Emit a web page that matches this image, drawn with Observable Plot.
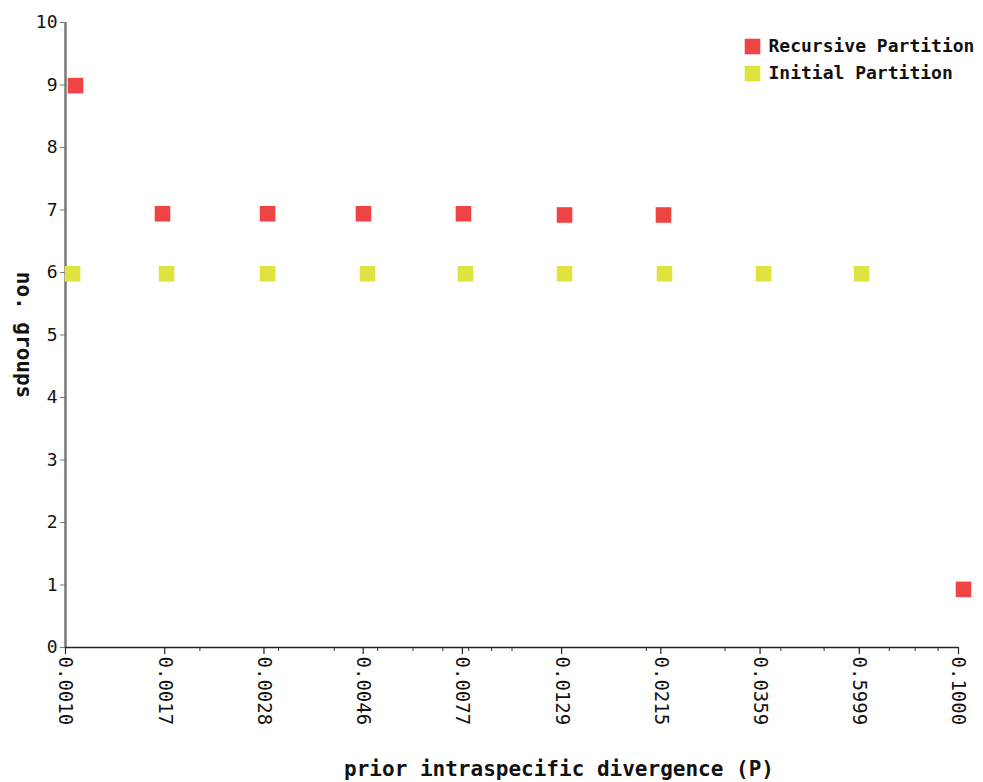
<!DOCTYPE html>
<html>
<head>
<meta charset="utf-8">
<script src="https://cdn.jsdelivr.net/npm/d3@7"></script>
<script src="https://cdn.jsdelivr.net/npm/@observablehq/plot@0.6"></script>
<style>
  html, body { margin: 0; padding: 0; background: #fff; }
  #chart { width: 983px; height: 782px; }
</style>
</head>
<body>
<div id="chart"></div>
<script>
// x positions (prior intraspecific divergence, log scale) and no. groups
const recursiveX = [0.001053, 0.001649, 0.002835, 0.004648, 0.007786, 0.013112, 0.021843, 0.10261];
const recursiveY = [8.99, 6.94, 6.94, 6.94, 6.94, 6.92, 6.92, 0.93];
const initialX = [0.001037, 0.001684, 0.002835, 0.004746, 0.007867, 0.013112, 0.021954, 0.036588, 0.060647];
const initialY = [5.98, 5.98, 5.98, 5.98, 5.98, 5.98, 5.98, 5.98, 5.98];

const majorTicks = [0.001, 0.001668, 0.002783, 0.004642, 0.007743, 0.012915, 0.021544, 0.035938, 0.059948, 0.1];
const majorLabels = ["0.0010", "0.0017", "0.0028", "0.0046", "0.0077", "0.0129", "0.0215", "0.0359", "0.5999", "0.1000"];
const minorTicks = [0.002, 0.003, 0.004, 0.005, 0.006, 0.007, 0.008, 0.009, 0.01, 0.02, 0.03, 0.04, 0.05, 0.06, 0.07, 0.08, 0.09];
const yTicks = [0, 1, 2, 3, 4, 5, 6, 7, 8, 9, 10];

const seriesNames = ["Recursive Partition", "Initial Partition"];
const seriesColors = ["#ef4444", "#dfe23f"];

const recursive = recursiveX.map((x, i) => ({x, y: recursiveY[i]}));
const initial = initialX.map((x, i) => ({x, y: initialY[i]}));
const majors = majorTicks.map((x, i) => ({x, label: majorLabels[i]}));

const mono = "'DejaVu Sans Mono', 'Liberation Mono', monospace";
const sq = 8.8;

const chart = Plot.plot({
  width: 983,
  height: 782,
  marginLeft: 65,
  marginRight: 25,
  marginTop: 22,
  marginBottom: 135,
  style: {fontFamily: mono, color: "#111", background: "#fff", overflow: "visible"},
  x: {type: "log", domain: [0.001, 0.1], axis: null},
  y: {domain: [0, 10], axis: null},
  marks: [
    Plot.axisY({ticks: yTicks, tickSize: 5, tickPadding: 3, label: null, fontSize: 18, stroke: "#777"}),
    // x ticks (major and minor) and labels
    Plot.ruleX(minorTicks, {x: d => d, y1: 0, y2: 0, insetBottom: -4, stroke: "#333", strokeWidth: 1}),
    Plot.ruleX(majors, {x: "x", y1: 0, y2: 0, insetBottom: -7, stroke: "#222", strokeWidth: 1.2}),
    Plot.text(majors, {x: "x", text: "label", frameAnchor: "bottom", dy: 9, rotate: 90,
      textAnchor: "start", lineAnchor: "middle", fontSize: 19, fill: "#111"}),
    Plot.ruleX([0.001], {stroke: "#777", strokeWidth: 2.5}),
    Plot.ruleY([0], {stroke: "#222", strokeWidth: 1.5}),
    Plot.dot(recursive, {x: "x", y: "y", symbol: "square", r: sq, fill: seriesColors[0], stroke: "none"}),
    Plot.dot(initial, {x: "x", y: "y", symbol: "square", r: sq, fill: seriesColors[1], stroke: "none"}),
    // legend
    Plot.dot([seriesNames[0]], {frameAnchor: "top-right", dx: -206, dy: 24, symbol: "square", r: sq,
      fill: seriesColors[0], stroke: "none"}),
    Plot.dot([seriesNames[1]], {frameAnchor: "top-right", dx: -206, dy: 51, symbol: "square", r: sq,
      fill: seriesColors[1], stroke: "none"}),
    Plot.text([seriesNames[0]], {frameAnchor: "top-right", dx: -190, dy: 24, text: d => d, textAnchor: "start",
      lineAnchor: "middle", fontSize: 18, fontWeight: "bold", fill: "#111"}),
    Plot.text([seriesNames[1]], {frameAnchor: "top-right", dx: -190, dy: 51, text: d => d, textAnchor: "start",
      lineAnchor: "middle", fontSize: 18, fontWeight: "bold", fill: "#111"}),
    // y title
    Plot.text(["no. groups"], {frameAnchor: "left", dx: -42, rotate: 90, textAnchor: "middle", lineAnchor: "middle",
      fontSize: 21, fontWeight: "bold", fill: "#111"}),
    // x title
    Plot.text(["prior intraspecific divergence (P)"], {frameAnchor: "bottom", dx: 47, dy: 122, textAnchor: "middle",
      lineAnchor: "middle", fontSize: 21, fontWeight: "bold", fill: "#111"})
  ]
});

document.getElementById("chart").appendChild(chart);
</script>
</body>
</html>
